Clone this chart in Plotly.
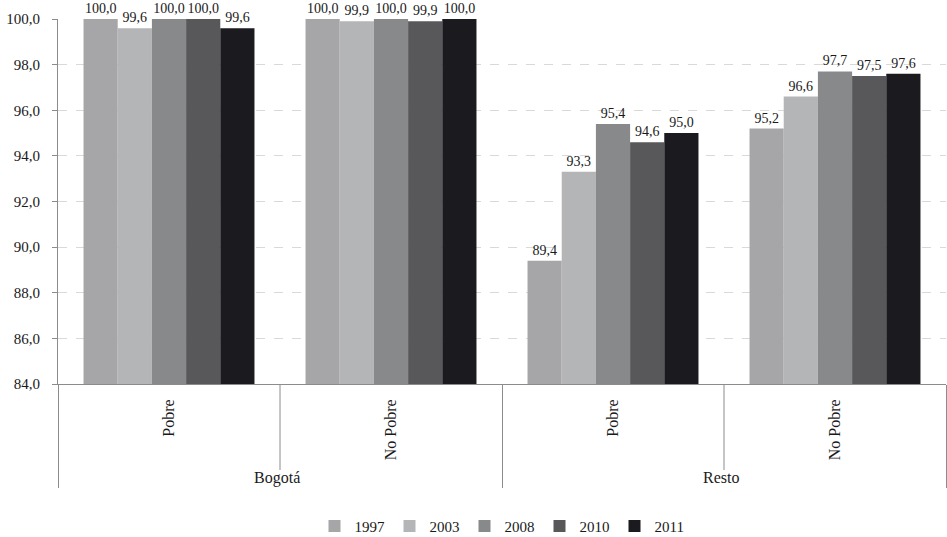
import plotly.graph_objects as go

regions = ["Bogotá", "Bogotá", "Resto", "Resto"]
groups = ["Pobre", "No Pobre", "Pobre", "No Pobre"]
years = ["1997", "2003", "2008", "2010", "2011"]
v1997 = [100.0, 100.0, 89.4, 95.2]
v2003 = [99.6, 99.9, 93.3, 96.6]
v2008 = [100.0, 100.0, 95.4, 97.7]
v2010 = [100.0, 99.9, 94.6, 97.5]
v2011 = [99.6, 100.0, 95.0, 97.6]
series = [v1997, v2003, v2008, v2010, v2011]
colors = ["#a6a6a8", "#b4b5b7", "#88898b", "#58585a", "#1b1a1f"]
yticks = [84, 86, 88, 90, 92, 94, 96, 98, 100]

FONT = "Liberation Serif"
FS = 15

fig = go.Figure()
for name, vals, col in zip(years, series, colors):
    fig.add_trace(go.Bar(
        x=[regions, groups], y=vals, name=name,
        marker=dict(color=col, line=dict(width=0)),
        text=[f"{v:.1f}".replace(".", ",") for v in vals],
        textposition="outside", cliponaxis=False, constraintext="none",
        textfont=dict(family=FONT, size=14, color="#1a1a1a"),
    ))

fig.update_layout(
    width=947, height=537,
    margin=dict(l=58, r=1, t=19, b=153, autoexpand=False),
    barmode="group", bargap=0.23, bargroupgap=0,
    plot_bgcolor="white", paper_bgcolor="white",
    font=dict(family=FONT, size=FS, color="#1a1a1a"),
    separators=",.",
    legend=dict(orientation="h", x=0.5, xanchor="center", y=-0.39, yanchor="middle",
                font=dict(family=FONT, size=FS), entrywidth=30, tracegroupgap=0),
    showlegend=True,
)
fig.update_yaxes(
    range=[84, 100], tickvals=yticks, tickformat=".1f", automargin=False,
    showgrid=True, gridcolor="#d9d9d9", griddash="dash", gridwidth=1,
    showline=True, linecolor="#8c8c8c", linewidth=1,
    ticks="outside", ticklen=5, tickcolor="#8c8c8c", ticklabelstandoff=9,
    zeroline=False, tickfont=dict(family=FONT, size=FS),
)
fig.update_xaxes(
    type="multicategory", showline=True, linecolor="#8c8c8c", linewidth=1, automargin=False,
    tickangle=-90, ticks="", showdividers=True, dividercolor="#8c8c8c", dividerwidth=1,
    ticklabelstandoff=8, tickfont=dict(family=FONT, size=16),
)
# inner dividers between Pobre / No Pobre
for xf in [0.25, 0.75]:
    fig.add_shape(type="line", xref="paper", yref="paper", x0=xf, x1=xf, y0=0, y1=-86/365,
                  line=dict(color="#8c8c8c", width=1))

fig.write_html("out.html", config={"displayModeBar": False},
               post_script="document.body.style.margin='0';")
